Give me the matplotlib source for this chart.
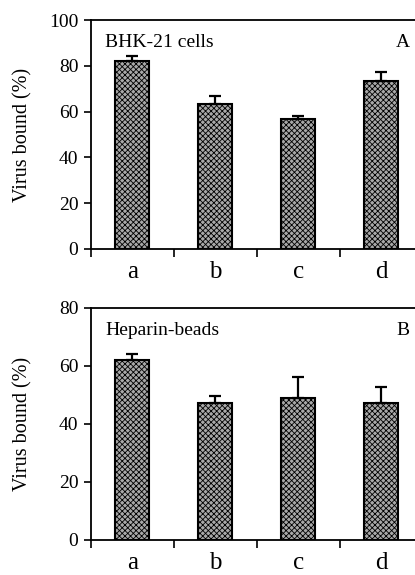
import numpy as np
import matplotlib
matplotlib.use("Agg")
import matplotlib.pyplot as plt

plt.rcParams['font.family'] = ['Liberation Serif', 'DejaVu Serif']
plt.rcParams['hatch.color'] = '#333333'
plt.rcParams['hatch.linewidth'] = 0.6

# --- data ---
categories = ['a', 'b', 'c', 'd']
bhk_values = [82.3, 63.5, 57.0, 73.2]
bhk_errors = [2.0, 3.2, 1.2, 4.0]
hep_values = [62.0, 47.0, 49.0, 47.0]
hep_errors = [2.0, 2.5, 7.0, 5.5]

fig = plt.figure(figsize=(4.15, 5.75), dpi=100)
ax_a = fig.add_axes([0.219, 0.567, 0.78, 0.398])
ax_b = fig.add_axes([0.219, 0.061, 0.78, 0.404])


def draw_panel(ax, values, errors, ymax, label, letter):
    x = np.arange(len(categories))
    ax.bar(x, values, width=0.41, facecolor='#a8a8a8', edgecolor='black',
           linewidth=1.5, hatch='xxxxxx', zorder=2)
    ax.errorbar(x, values, yerr=[np.zeros(len(errors)), errors], fmt='none',
                ecolor='black', elinewidth=1.6, capsize=4.5, capthick=1.6, zorder=3)
    ax.set_xlim(-0.5, 3.4)
    ax.set_ylim(0, ymax)
    ax.set_yticks(np.arange(0, ymax + 1, 20))
    ax.set_xticks(x)
    ax.set_xticklabels(categories, fontsize=18)
    ax.set_xticks([-0.5, 0.5, 1.5, 2.5], minor=True)
    ax.tick_params(axis='x', which='major', length=0, pad=9)
    ax.tick_params(axis='x', which='minor', length=6, width=1.2, direction='out')
    ax.tick_params(axis='y', length=5, width=1.2, direction='out', labelsize=14, pad=4)
    ax.spines['right'].set_visible(False)
    for s in ['left', 'top', 'bottom']:
        ax.spines[s].set_linewidth(1.3)
    ax.set_ylabel('Virus bound (%)', fontsize=14.5)
    ax.yaxis.set_label_coords(-0.18, 0.5)
    ax.text(0.045, 0.94, label, transform=ax.transAxes, fontsize=14, va='top', ha='left')
    ax.text(0.985, 0.94, letter, transform=ax.transAxes, fontsize=14, va='top', ha='right')


draw_panel(ax_a, bhk_values, bhk_errors, 100, 'BHK-21 cells', 'A')
draw_panel(ax_b, hep_values, hep_errors, 80, 'Heparin-beads', 'B')

fig.savefig('out.png', dpi=100)
